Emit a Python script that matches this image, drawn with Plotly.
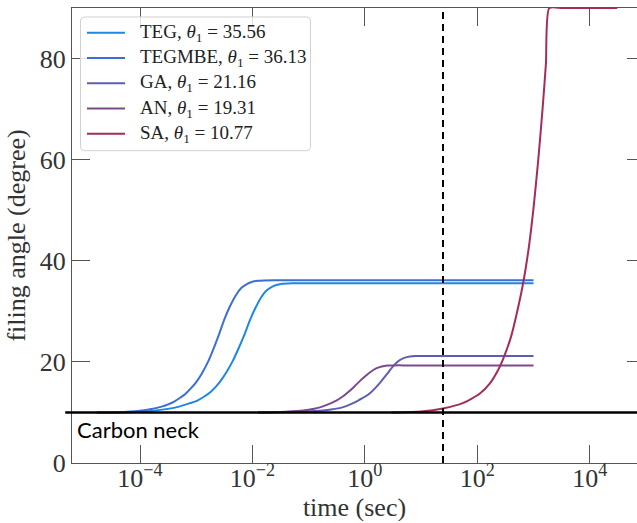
import numpy as np
import plotly.graph_objects as go

# Filling angle (degrees) vs. time; times stored as log10(seconds)
teg_logt = [-4.77, -4.2, -3.8, -3.4, -3.15, -2.99, -2.85, -2.75, -2.65, -2.55, -2.45,
            -2.35, -2.25, -2.15, -2.05, -1.95, -1.85, -1.75, -1.63, -1.5, -1.3,
            -1.0, -0.5, 0.0, 0.5, 1.0, 1.5, 2.0, 2.5, 3.0]
teg_angle = [10.0, 10.05, 10.3, 10.9, 11.7, 12.3, 13.2, 14.0, 15.1, 16.5, 18.2,
             20.2, 22.6, 25.2, 28.1, 30.6, 32.7, 34.1, 35.0, 35.4, 35.56,
             35.56, 35.56, 35.56, 35.56, 35.56, 35.56, 35.56, 35.56, 35.56]

tegmbe_logt = [-4.77, -4.4, -4.0, -3.8, -3.7, -3.6, -3.5, -3.4, -3.3, -3.2, -3.1,
               -3.0, -2.9, -2.8, -2.7, -2.6, -2.5, -2.4, -2.3, -2.2, -2.1, -2.0,
               -1.9, -1.8, -1.6, -1.3, -1.0, -0.5, 0.0, 0.5, 1.0, 1.5, 2.0, 2.5, 3.0]
tegmbe_angle = [10.0, 10.05, 10.35, 10.7, 10.9, 11.2, 11.6, 12.1, 12.8, 13.6, 14.7,
                16.0, 17.7, 19.8, 22.4, 25.3, 28.4, 31.0, 33.1, 34.6, 35.4, 35.85,
                36.03, 36.1, 36.13, 36.13, 36.13, 36.13, 36.13, 36.13, 36.13, 36.13,
                36.13, 36.13, 36.13]

ga_logt = [-1.9, -1.5, -1.1, -0.8, -0.6, -0.4, -0.3, -0.2, -0.1, 0.0, 0.1, 0.2,
           0.3, 0.4, 0.5, 0.6, 0.7, 0.8, 0.9, 1.1, 1.5, 2.0, 2.5, 3.0]
ga_angle = [10.0, 10.05, 10.2, 10.35, 10.6, 11.0, 11.4, 11.9, 12.5, 13.1, 13.9, 15.0,
            16.3, 17.7, 19.1, 20.2, 20.8, 21.08, 21.15, 21.16, 21.16, 21.16, 21.16, 21.16]

an_logt = [-1.9, -1.5, -1.2, -1.0, -0.9, -0.8, -0.7, -0.6, -0.5, -0.4, -0.3, -0.2,
           -0.1, 0.0, 0.1, 0.2, 0.3, 0.4, 0.5, 0.7, 1.0, 1.5, 2.0, 2.5, 3.0]
an_angle = [10.0, 10.1, 10.3, 10.55, 10.75, 11.0, 11.4, 11.85, 12.4, 13.1, 14.0, 15.0,
            16.1, 17.1, 18.0, 18.7, 19.1, 19.27, 19.31, 19.31, 19.31, 19.31, 19.31,
            19.31, 19.31]

sa_logt = [0.47, 1.0, 1.39, 1.75, 2.04, 2.22, 2.37, 2.46, 2.6, 2.72, 2.82, 2.92,
           3.0, 3.08, 3.16, 3.22, 3.28, 3.5, 3.75, 4.0, 4.25, 4.49]
sa_angle = [10.0, 10.2, 10.8, 11.9, 13.7, 15.7, 18.4, 20.6, 25.0, 30.5, 35.9, 43.0,
            50.5, 59.5, 70.0, 79.0, 90.0, 90.0, 90.0, 90.0, 90.0, 90.0]

series_names = ["TEG", "TEGMBE", "GA", "AN", "SA"]
theta_1 = ["35.56", "36.13", "21.16", "19.31", "10.77"]
series_colors = ["#1d87e6", "#3b6fd4", "#5c5db6", "#7c4a8c", "#a52b5b"]
series_data = [(teg_logt, teg_angle), (tegmbe_logt, tegmbe_angle),
               (ga_logt, ga_angle), (an_logt, an_angle), (sa_logt, sa_angle)]

carbon_neck_angle = 10.0   # horizontal reference line (degrees)
marker_time = 24.5         # vertical dashed marker (s)

x_tick_vals = [1e-4, 1e-2, 1e0, 1e2, 1e4]
x_tick_text = ["10<sup>−4</sup>", "10<sup>−2</sup>", "10<sup>0</sup>",
               "10<sup>2</sup>", "10<sup>4</sup>"]
y_tick_vals = [0, 20, 40, 60, 80]

serif = "Liberation Serif, Times New Roman, serif"
axis_col = "#555555"
text_col = "#333333"

W, H = 637, 523
ML, MR, MT, MB = 72, 0, 7.5, 59.5
PW, PH = W - ML - MR, H - MT - MB


def px_to_paper(px, py):
    """Pixel position on the page -> paper coordinates of the plot area."""
    return (px - ML) / PW, 1 - (py - MT) / PH


fig = go.Figure()
for name, col, (lt, a) in zip(series_names, series_colors, series_data):
    fig.add_trace(go.Scatter(
        x=10.0 ** np.array(lt), y=a, mode="lines", name=name, showlegend=False,
        line=dict(color=col, width=2, shape="spline", smoothing=0.6),
    ))

# invisible trace carrying the right-hand tick axis
fig.add_trace(go.Scatter(x=[1], y=[0], yaxis="y2", mode="markers",
                         marker=dict(opacity=0), showlegend=False, hoverinfo="skip"))

# carbon neck level
fig.add_shape(type="line", xref="paper", yref="y", x0=-0.012, x1=1,
              y0=carbon_neck_angle, y1=carbon_neck_angle,
              line=dict(color="black", width=2.5))
# dashed time marker
fig.add_shape(type="line", xref="x", yref="paper", x0=marker_time, x1=marker_time,
              y0=0, y1=1, line=dict(color="black", width=2, dash="7px,5px"))

fig.add_annotation(text="Carbon neck", xref="paper", yref="y", x=0.006, y=6.6,
                   xanchor="left", yanchor="middle", showarrow=False,
                   font=dict(family="Lato", size=22, color="black"))

# legend box (rounded frame, semi-transparent white)
bx0, by0 = px_to_paper(80.5, 16.5)
bx1, by1 = px_to_paper(310.5, 150.5)
rx, ry = 4 / PW, 4 / PH
box_path = (f"M{bx0 + rx},{by0} L{bx1 - rx},{by0} Q{bx1},{by0} {bx1},{by0 - ry} "
            f"L{bx1},{by1 + ry} Q{bx1},{by1} {bx1 - rx},{by1} "
            f"L{bx0 + rx},{by1} Q{bx0},{by1} {bx0},{by1 + ry} "
            f"L{bx0},{by0 - ry} Q{bx0},{by0} {bx0 + rx},{by0} Z")
fig.add_shape(type="path", path=box_path, xref="paper", yref="paper", layer="above",
              fillcolor="rgba(255,255,255,0.82)", line=dict(color="#d2d2d2", width=1))

row_y = [32.3, 57.5, 82.9, 108.3, 133.5]
for name, th, col, ry_px in zip(series_names, theta_1, series_colors, row_y):
    lx0, ly = px_to_paper(87, ry_px)
    lx1, _ = px_to_paper(125, ry_px)
    fig.add_shape(type="line", xref="paper", yref="paper", layer="above",
                  x0=lx0, x1=lx1, y0=ly, y1=ly, line=dict(color=col, width=2))
    tx, _ = px_to_paper(138, ry_px)
    fig.add_annotation(text=f"{name}, <i>θ</i><sub>1</sub> = {th}",
                       xref="paper", yref="paper", x=tx, y=ly,
                       xanchor="left", yanchor="middle", showarrow=False,
                       font=dict(family=serif, size=19, color="#222"))

fig.update_layout(
    width=W, height=H,
    margin=dict(l=ML, r=MR, t=MT, b=MB),
    paper_bgcolor="white", plot_bgcolor="white",
    showlegend=False,
    xaxis=dict(type="log", range=[-5.21, 4.84], tickvals=x_tick_vals, ticktext=x_tick_text,
               showgrid=False, zeroline=False, automargin=False,
               showline=True, linecolor=axis_col, linewidth=1, mirror="ticks",
               ticks="inside", ticklen=18, tickcolor=axis_col, tickwidth=1,
               ticklabelstandoff=-8,
               tickfont=dict(family=serif, size=26, color=text_col),
               title=dict(text="time (sec)", font=dict(family=serif, size=26, color=text_col),
                          standoff=4)),
    yaxis=dict(range=[0, 90], tickvals=y_tick_vals,
               showgrid=False, zeroline=False, automargin=False,
               showline=True, linecolor=axis_col, linewidth=1, mirror=True,
               ticks="inside", ticklen=18, tickcolor=axis_col, tickwidth=1,
               tickfont=dict(family=serif, size=26, color=text_col),
               title=dict(text="filing angle (degree)",
                          font=dict(family=serif, size=26, color=text_col), standoff=6)),
    yaxis2=dict(range=[0, 90], tickvals=y_tick_vals, overlaying="y", side="right",
                showgrid=False, zeroline=False, showline=False, showticklabels=False,
                automargin=False,
                ticks="inside", ticklen=10, tickcolor=axis_col, tickwidth=1),
)

fig.write_html("out.html")
